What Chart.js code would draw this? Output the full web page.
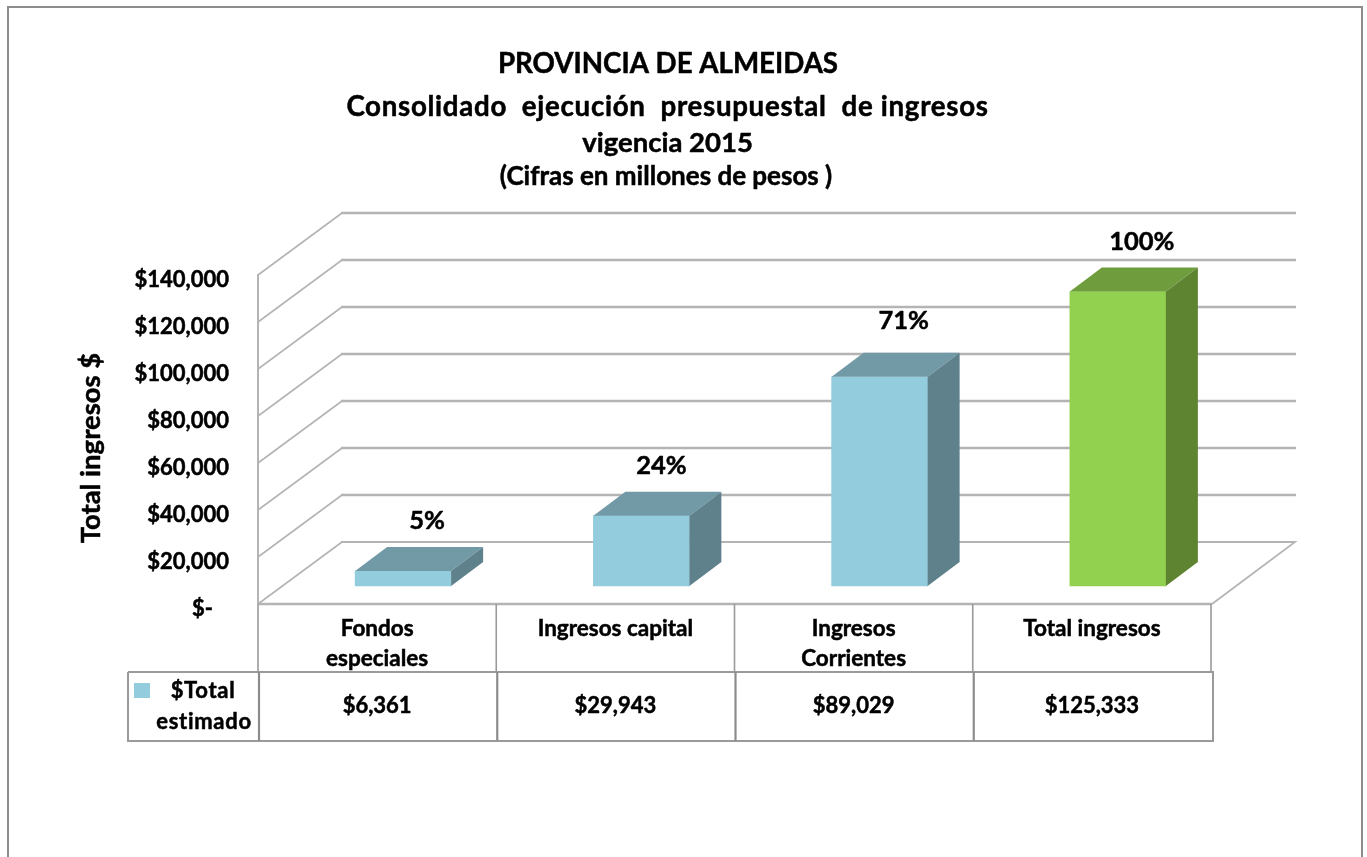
<!DOCTYPE html>
<html lang="es">
<head>
<meta charset="utf-8">
<title>Provincia de Almeidas</title>
<script src="https://cdn.jsdelivr.net/npm/chart.js@4"></script>
<style>
html,body{margin:0;padding:0;background:#fff;}
canvas{display:block;}
</style>
</head>
<body>
<canvas id="c" width="1367" height="857"></canvas>
<script>
const categories = [["Fondos","especiales"],"Ingresos capital",["Ingresos","Corrientes"],"Total ingresos"];
const values = [6361, 29943, 89029, 125333];
const valueLabels = ["$6,361","$29,943","$89,029","$125,333"];
const percentLabels = ["5%","24%","71%","100%"];
const seriesName = ["$Total","estimado"];
const titleLines = ["PROVINCIA DE ALMEIDAS","Consolidado  ejecución  presupuestal  de ingresos","vigencia 2015","(Cifras en millones de pesos )"];
const yTitle = "Total ingresos $";

const FONT = 'Lato, "Open Sans", sans-serif';
const frontColors = ["#93CDDD","#93CDDD","#93CDDD","#92D050"];
const topColors   = ["#7299A6","#7299A6","#7299A6","#6F9D3D"];
const sideColors  = ["#5F818C","#5F818C","#5F818C","#5E8331"];
const GRID = "#b4b4b4";
const WALL = {dx:84, dy:-62};      // depth of the floor and side wall
const BAR  = {dx:26, dy:-18, depthX:32, depthY:-24};

function line(ctx, pts, color, w){
  ctx.beginPath();
  pts.forEach((p,i)=> i ? ctx.lineTo(p[0],p[1]) : ctx.moveTo(p[0],p[1]));
  ctx.strokeStyle=color; ctx.lineWidth=w; ctx.lineJoin="miter"; ctx.stroke();
}
function poly(ctx, pts, color){
  ctx.beginPath();
  pts.forEach((p,i)=> i ? ctx.lineTo(p[0],p[1]) : ctx.moveTo(p[0],p[1]));
  ctx.closePath(); ctx.fillStyle=color; ctx.fill();
}
function text(ctx, s, x, y, font, align, spacing){
  ctx.font=font; ctx.fillStyle="#000"; ctx.textAlign=align||"center"; ctx.textBaseline="middle";
  ctx.letterSpacing=spacing||"0px";
  ctx.strokeStyle="#000"; ctx.lineWidth=0.5; ctx.lineJoin="round";
  ctx.strokeText(s,x,y);
  ctx.fillText(s,x,y);
  ctx.letterSpacing="0px";
}

const scene3d = {
  id:"scene3d",
  beforeDatasetsDraw(chart){
    const {ctx, chartArea:a, scales:{y}} = chart;
    ctx.save();
    // outer frame
    line(ctx,[[8,857],[8,7],[1362,7],[1362,857]],"#8c8c8c",2);
    // walls and grid lines, from the value scale
    y.ticks.forEach(t=>{
      const py = y.getPixelForValue(t.value);
      line(ctx,[[a.left,py],[a.left+WALL.dx,py+WALL.dy]],GRID,1.6);
      if(t.value>0) line(ctx,[[a.left+WALL.dx-1,py+WALL.dy],[a.right+WALL.dx+1,py+WALL.dy]],GRID,2.6);
    });
    const y0=y.getPixelForValue(0);
    // floor
    line(ctx,[[a.left+WALL.dx-1,y0+WALL.dy],[a.right+WALL.dx,y0+WALL.dy],[a.right+1,y0]],GRID,1.8);
    line(ctx,[[a.left,y.top-1],[a.left,y0]],GRID,2);
    line(ctx,[[a.left,y0],[a.right+1,y0]],GRID,2.6);
    ctx.restore();
  },
  beforeDatasetDraw(chart){
    chart.ctx.save();
    chart.ctx.translate(BAR.dx,BAR.dy);
  },
  afterDatasetDraw(chart,args){
    const ctx=chart.ctx;
    ctx.restore();
    ctx.save();
    chart.getDatasetMeta(args.index).data.forEach((b,i)=>{
      const hw=b.width/2, l=b.x-hw+BAR.dx, r=b.x+hw+BAR.dx, t=b.y+BAR.dy, base=b.base+BAR.dy;
      const dx=BAR.depthX, dy=BAR.depthY;
      poly(ctx,[[l,t],[r,t],[r+dx,t+dy],[l+dx,t+dy]],topColors[i]);
      poly(ctx,[[r,t],[r+dx,t+dy],[r+dx,base+dy],[r,base]],sideColors[i]);
      const nudge = i===1 ? -4 : 0, lift = i===2 ? -6 : 0;
      text(ctx,percentLabels[i],r-48+24+nudge,t-50+lift,"bold 25.5px "+FONT);
    });
    ctx.restore();
  },
  afterDraw(chart){
    const {ctx, chartArea:a, scales:{x,y}} = chart;
    ctx.save();
    // titles
    text(ctx,titleLines[0],668,64,"bold 27.7px "+FONT);
    text(ctx,titleLines[1],667.5,107,"bold 27.7px "+FONT,"center","0.7px");
    text(ctx,titleLines[2],667.5,143,"bold 27.5px "+FONT);
    text(ctx,titleLines[3],666,177,"bold 26px "+FONT);
    // axis title
    ctx.save();
    ctx.translate(91,448);
    ctx.rotate(-Math.PI/2);
    text(ctx,yTitle,0,0,"bold 27.5px "+FONT);
    ctx.restore();
    // data table
    const rowTop=672, rowBottom=741, left=128, y0=y.getPixelForValue(0);
    const cell=(x.getPixelForValue(1)-x.getPixelForValue(0))/2;
    const edges=categories.map((_,i)=>x.getPixelForValue(i)-cell);
    edges.push(a.right);
    edges.forEach(e=>line(ctx,[[e,y0],[e,rowTop]],"#9a9a9a",1.6));
    line(ctx,[[left,rowTop],[a.right+2,rowTop],[a.right+2,rowBottom],[left,rowBottom],[left,rowTop]],"#9a9a9a",2);
    edges.slice(0,4).forEach(e=>line(ctx,[[e+1,rowTop],[e+1,rowBottom]],"#8c8c8c",2.2));
    valueLabels.forEach((s,i)=>text(ctx,s,x.getPixelForValue(i),706,"bold 22px "+FONT));
    ctx.fillStyle=frontColors[0];
    ctx.fillRect(134,683,16,15);
    text(ctx,seriesName[0],203,691,"bold 22px "+FONT,"center","0.7px");
    text(ctx,seriesName[1],204,722,"bold 22px "+FONT,"center","0.7px");
    ctx.restore();
  }
};

new Chart(document.getElementById("c"),{
  type:"bar",
  data:{labels:categories,datasets:[{
    label:seriesName.join(" "),
    data:values,
    backgroundColor:frontColors,
    borderWidth:0,
    barThickness:96,
    clip:false
  }]},
  plugins:[scene3d],
  options:{
    responsive:false,
    animation:false,
    layout:{padding:{top:275,right:156,left:0,bottom:0}},
    plugins:{legend:{display:false},tooltip:{enabled:false},title:{display:false}},
    scales:{
      x:{
        grid:{display:false},border:{display:false},
        ticks:{color:"#000",maxRotation:0,autoSkip:false,padding:2,textStrokeColor:"#000",textStrokeWidth:0.5,
          font:{family:FONT,size:22.5,weight:"bold",lineHeight:1.33}},
        afterFit(s){s.height=253;}
      },
      y:{
        min:0,max:140000,
        grid:{display:false},border:{display:false},
        ticks:{stepSize:20000,color:"#000",padding:21,labelOffset:5,textStrokeColor:"#000",textStrokeWidth:0.5,
          font:{family:FONT,size:22,weight:"bold"},
          callback:v=> v===0 ? "$-   " : "$"+v.toLocaleString("en-US")},
        afterFit(s){s.width=258;}
      }
    }
  }
});
</script>
</body>
</html>
